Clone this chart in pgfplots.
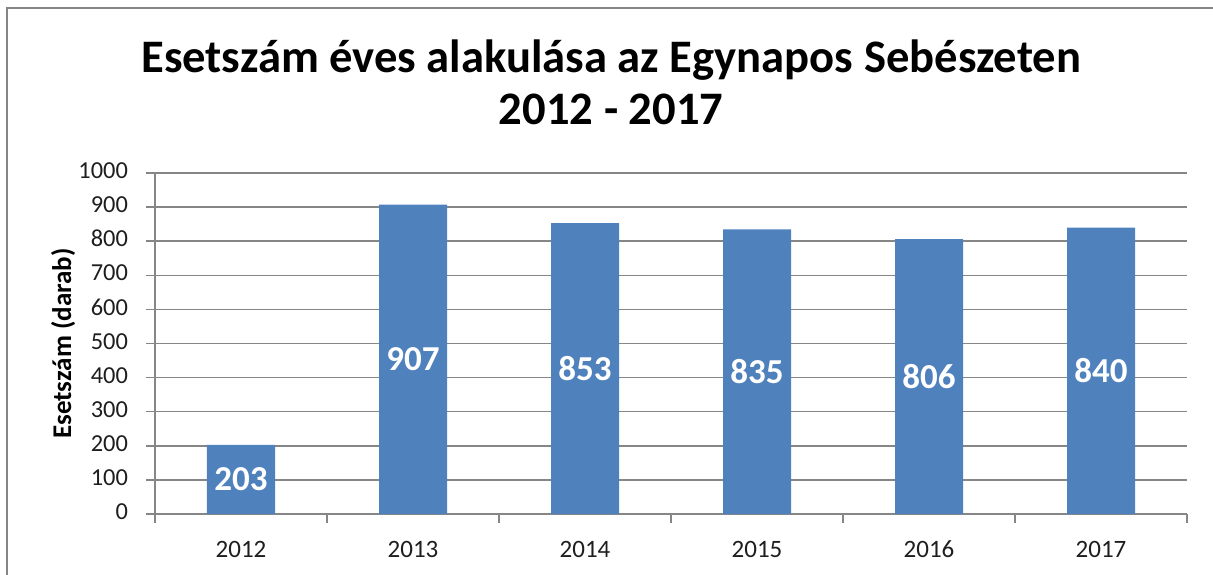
\documentclass[border=0pt]{standalone}
\usepackage{pgfplots}
\pgfplotsset{compat=1.18}
\usepackage{pgfplotstable}
\usepackage{fontspec}
\setmainfont{Carlito}
\definecolor{barblue}{HTML}{4F81BD}
\definecolor{gridgray}{HTML}{868686}
\definecolor{textdark}{HTML}{1E1E1E}

\pgfplotstableread{
x y
0 203
1 907
2 853
3 835
4 806
5 840
}\esetdata

\begin{document}
\begin{tikzpicture}
\useasboundingbox (0,0) rectangle (606.5pt,-287pt);
\draw[gridgray, line width=1.2pt] (3.5pt,-300pt) -- (3.5pt,-4pt) -- (620pt,-4pt);
\begin{axis}[
  at={(77.5pt,-257pt)}, anchor=south west,
  scale only axis, width=516pt, height=170.5pt,
  xmin=-0.5, xmax=5.5, ymin=0, ymax=1000,
  axis x line*=bottom, axis y line*=left,
  axis line style={gridgray, line width=0.75pt, -},
  xtick={0,...,5}, xticklabels={2012,2013,2014,2015,2016,2017},
  minor xtick={-0.5,0.5,...,5.5},
  major x tick style={draw=none},
  minor x tick style={gridgray, line width=0.75pt},
  ytick={0,100,...,1000},
  ytick style={gridgray, line width=0.75pt},
  tick align=outside, major tick length=4.5pt, minor tick length=4.5pt,
  ymajorgrids, major grid style={gridgray, line width=0.75pt},
  typeset ticklabels with strut,
  tick label style={text=textdark},
  xticklabel style={font=\fontsize{12.5}{14}\selectfont, yshift=-4pt},
  yticklabel style={font=\fontsize{12.2}{14}\selectfont, xshift=-5.5pt},
  /pgf/number format/assume math mode=true,
  /pgf/number format/1000 sep={},
  ylabel={Esetszám (darab)},
  ylabel style={font=\bfseries\fontsize{13.5}{15}\selectfont, text=black, at={(axis description cs:-0.089,0.5)}, anchor=center},
  title={Esetszám éves alakulása az Egynapos Sebészeten\\2012 - 2017},
  title style={font=\bfseries\fontsize{23.3}{26}\selectfont, align=center, at={(axis description cs:0.442,1.232)}, anchor=center},
]
\addplot[ybar, bar width=34pt, fill=barblue, draw=none] table[x=x,y=y]{\esetdata};
\addplot[draw=none, mark=none, nodes near coords, point meta=explicit,
  nodes near coords style={font=\bfseries\fontsize{17.5}{20}\selectfont, text=white, anchor=center}]
  table[x=x, y expr=\thisrow{y}/2, meta=y]{\esetdata};
\end{axis}
\end{tikzpicture}
\end{document}
